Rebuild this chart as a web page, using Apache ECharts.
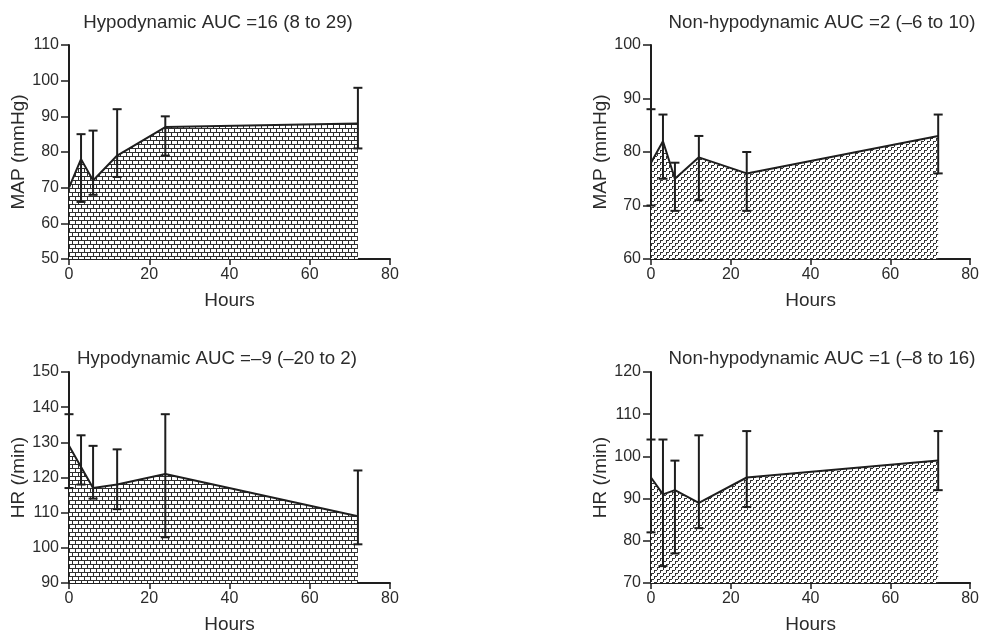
<!DOCTYPE html>
<html>
<head>
<meta charset="utf-8">
<script src="https://cdn.jsdelivr.net/npm/echarts@6/dist/echarts.min.js"></script>
<style>
html,body{margin:0;padding:0;background:#fff;}
#chart{width:982px;height:635px;}
</style>
</head>
<body>
<div id="chart"></div>
<script>
// ---- data ----
const hours = [0, 3, 6, 12, 24, 72];
const xTicks = [0, 20, 40, 60, 80];

const mapHypoMean = [70, 78, 72, 79, 87, 88];
const mapHypoLow  = [null, 66, 68, 73, 79, 81];
const mapHypoHigh = [null, 85, 86, 92, 90, 98];

const mapNonMean = [78, 82, 75, 79, 76, 83];
const mapNonLow  = [70, 75, 69, 71, 69, 76];
const mapNonHigh = [88, 87, 78, 83, 80, 87];

const hrHypoMean = [129, 123, 117, 118, 121, 109];
const hrHypoLow  = [117, 118, 114, 111, 103, 101];
const hrHypoHigh = [138, 132, 129, 128, 138, 122];

const hrNonMean = [95, 91, 92, 89, 95, 99];
const hrNonLow  = [82, 74, 77, 83, 88, 92];
const hrNonHigh = [104, 104, 99, 105, 106, 106];

const titles = [
  'Hypodynamic AUC =16 (8 to 29)',
  'Non-hypodynamic AUC =2 (\u20136 to 10)',
  'Hypodynamic AUC =\u20139 (\u201320 to 2)',
  'Non-hypodynamic AUC =1 (\u20138 to 16)'
];
const yNames = ['MAP (mmHg)', 'MAP (mmHg)', 'HR (/min)', 'HR (/min)'];
const yRanges = [[50, 110], [60, 100], [90, 150], [70, 120]];

// ---- patterns ----
function brickPattern() {
  const c = document.createElement('canvas');
  c.width = 12; c.height = 8;
  const g = c.getContext('2d');
  g.fillStyle = '#fff'; g.fillRect(0, 0, 12, 8);
  g.fillStyle = '#2e2e2e';
  g.fillRect(0, 0, 12, 1);
  g.fillRect(0, 4, 12, 1);
  g.fillRect(0, 0, 1, 4);
  g.fillRect(6, 0, 1, 4);
  g.fillRect(3, 4, 1, 4);
  g.fillRect(9, 4, 1, 4);
  return c;
}
function dashPattern() {
  const c = document.createElement('canvas');
  c.width = 6; c.height = 6;
  const g = c.getContext('2d');
  g.fillStyle = '#fff'; g.fillRect(0, 0, 6, 6);
  g.fillStyle = '#333';
  g.fillRect(0, 0, 3, 1);
  g.fillRect(0, 1, 1, 2);
  g.fillRect(3, 3, 3, 1);
  g.fillRect(3, 4, 1, 2);
  return c;
}
const brick = { image: brickPattern(), repeat: 'repeat' };
const dash = { image: dashPattern(), repeat: 'repeat' };

const panels = [
  { mean: mapHypoMean, low: mapHypoLow, high: mapHypoHigh, fill: brick },
  { mean: mapNonMean, low: mapNonLow, high: mapNonHigh, fill: dash },
  { mean: hrHypoMean, low: hrHypoLow, high: hrHypoHigh, fill: brick },
  { mean: hrNonMean, low: hrNonLow, high: hrNonHigh, fill: dash }
];

const grids = [
  { left: 69, top: 45, width: 321, height: 214 },
  { left: 651, top: 45, width: 321, height: 214 },
  { left: 69, top: 372, width: 321, height: 214 },
  { left: 651, top: 372, width: 321, height: 214 }
];
const titlePos = [[218, 23], [822, 23], [217, 359], [822, 359]];

const textColor = '#2b2b2b';
const lineColor = '#1e1e1e';
const font = 'Liberation Sans, Arial';

const option = {
  animation: false,
  backgroundColor: '#fff',
  grid: grids.map(g => Object.assign({ containLabel: false }, g)),
  xAxis: grids.map((g, i) => ({
    type: 'value', gridIndex: i, min: 0, max: 80, interval: 20,
    name: 'Hours', nameLocation: 'middle', nameGap: 32,
    nameTextStyle: { fontSize: 19, color: textColor, fontFamily: font },
    axisLine: { show: true, onZero: false, lineStyle: { color: lineColor, width: 2 } },
    axisTick: { show: true, length: 6, lineStyle: { color: lineColor, width: 1.5 } },
    axisLabel: { margin: 8, fontSize: 16, color: textColor, fontFamily: font,
      formatter: v => (xTicks.indexOf(v) >= 0 ? String(v) : '') },
    splitLine: { show: false }
  })),
  yAxis: grids.map((g, i) => ({
    type: 'value', gridIndex: i, min: yRanges[i][0], max: yRanges[i][1], interval: 10,
    name: yNames[i], nameLocation: 'middle', nameGap: 35,
    nameTextStyle: { fontSize: 19, color: textColor, fontFamily: font },
    axisLine: { show: true, onZero: false, lineStyle: { color: lineColor, width: 2 } },
    axisTick: { show: true, length: 8, lineStyle: { color: lineColor, width: 1.5 } },
    axisLabel: { margin: 10, fontSize: 16, color: textColor, fontFamily: font },
    splitLine: { show: false }
  })),
  graphic: titles.map((t, i) => ({
    type: 'text', x: titlePos[i][0], y: titlePos[i][1],
    style: { text: t, fontSize: 18.7, fill: textColor, fontFamily: font,
      align: 'center', verticalAlign: 'middle' }
  })),
  series: []
};

panels.forEach((p, i) => {
  option.series.push({
    type: 'line', xAxisIndex: i, yAxisIndex: i,
    data: hours.map((h, k) => [h, p.mean[k]]),
    showSymbol: false, symbol: 'none',
    lineStyle: { color: lineColor, width: 2 },
    areaStyle: { color: p.fill, opacity: 1, origin: 'start' },
    z: 2
  });
  option.series.push({
    type: 'custom', xAxisIndex: i, yAxisIndex: i,
    data: hours.map((h, k) => [h, p.low[k], p.high[k]]).filter(d => d[1] != null),
    clip: false, z: 5,
    renderItem: function (params, api) {
      const x = api.value(0);
      const lo = api.coord([x, api.value(1)]);
      const hi = api.coord([x, api.value(2)]);
      const w = 4.5;
      const st = { stroke: lineColor, lineWidth: 2 };
      return {
        type: 'group',
        children: [
          { type: 'line', shape: { x1: lo[0], y1: lo[1], x2: hi[0], y2: hi[1] }, style: st },
          { type: 'line', shape: { x1: hi[0] - w, y1: hi[1], x2: hi[0] + w, y2: hi[1] }, style: st },
          { type: 'line', shape: { x1: lo[0] - w, y1: lo[1], x2: lo[0] + w, y2: lo[1] }, style: st }
        ]
      };
    }
  });
});

const chart = echarts.init(document.getElementById('chart'), null, { renderer: 'canvas' });
chart.setOption(option);
</script>
</body>
</html>
